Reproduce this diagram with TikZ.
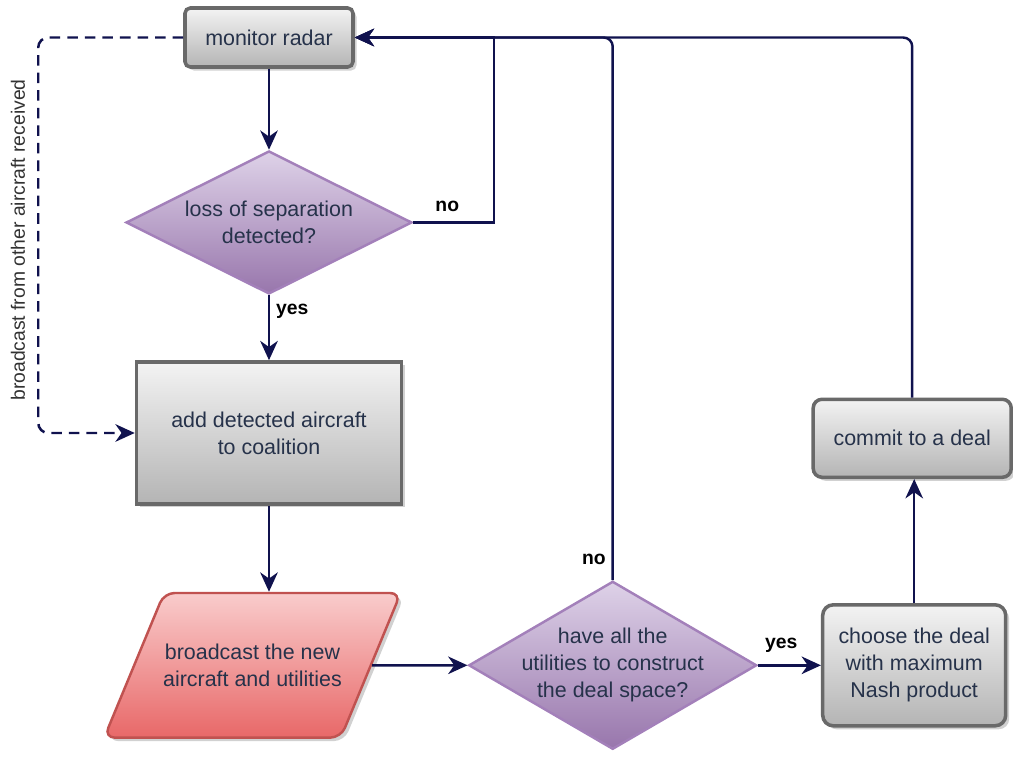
\documentclass[tikz,border=0pt]{standalone}
\usepackage{fontspec}
\setmainfont{Liberation Sans}
\usepackage{xcolor}
\usepackage{tikz}
\usetikzlibrary{shapes,arrows.meta,positioning,shadows}

\definecolor{flowblue}{RGB}{16,18,78}
\definecolor{boxtext}{RGB}{38,50,74}
\definecolor{labelgray}{RGB}{50,50,50}
\definecolor{boxedge}{RGB}{105,105,105}
\definecolor{boxtop}{RGB}{243,243,243}
\definecolor{boxbot}{RGB}{180,180,180}
\definecolor{decedge}{RGB}{163,128,186}
\definecolor{dectop}{RGB}{222,210,232}
\definecolor{decbot}{RGB}{152,118,172}
\definecolor{iotop}{RGB}{249,204,204}
\definecolor{iobot}{RGB}{232,104,104}
\definecolor{ioedge}{RGB}{192,82,80}

\begin{document}
\begin{tikzpicture}[
    node distance=1.5cm,
    font=\fontsize{12.2}{15.3}\selectfont,
    box/.style={rectangle, draw=boxedge, line width=2pt, top color=boxtop, bottom color=boxbot, text=boxtext, align=center, drop shadow={shadow xshift=0.07cm, shadow yshift=-0.07cm, fill=black!30, opacity=0.6}},
    decision/.style={diamond, aspect=1.7, inner sep=-6pt, draw=decedge, line width=1.4pt, top color=dectop, bottom color=decbot, text=boxtext, align=center},
    io/.style={trapezium, trapezium left angle=67.5, trapezium right angle=112.5, inner xsep=-0.02cm, inner ysep=1.02cm, rounded corners=6pt, draw=ioedge, line width=1.4pt, top color=iotop, bottom color=iobot, text=boxtext, align=center, drop shadow={shadow xshift=0.07cm, shadow yshift=-0.07cm, fill=black!30, opacity=0.6}},
    flow/.style={draw=flowblue, line width=1.4pt, -{Stealth[length=11pt, width=10pt, inset=3.5pt]}},
    tag/.style={font=\fontsize{11}{13}\selectfont\bfseries, text=black}
]
    \useasboundingbox (0,0) rectangle (20.26,-15.18);

    % Main column
    \node[box, rounded corners=3pt, minimum width=3.36cm, minimum height=1.18cm] (monitor) at (5.38,-0.75) {monitor radar};
    \node[decision, minimum width=5.72cm, minimum height=2.86cm, below=1.62cm of monitor] (loss) {loss of separation\\detected?};
    \node[box, minimum width=5.3cm, minimum height=2.84cm, below=1.3cm of loss] (add) {add detected aircraft\\to coalition};
    \node[io, below=1.72cm of add, xshift=-0.33cm] (bcast) {broadcast the new\\aircraft and utilities};

    % Deal part
    \node[decision, minimum width=5.76cm, minimum height=3.36cm, right=4.3cm of bcast.center] (allutil) {have all the\\utilities to construct\\the deal space?};
    \node[box, rounded corners=6pt, minimum width=3.66cm, minimum height=2.42cm, right=1.26cm of allutil] (choose) {choose the deal\\with maximum\\Nash product};
    \node[box, rounded corners=5pt, minimum width=3.96cm, minimum height=1.56cm, above=2.48cm of choose, xshift=-0.04cm] (commit) {commit to a deal};

    % Side label
    \node[rotate=90, text=labelgray, font=\fontsize{11}{13}\selectfont] (bcastnote) at (0.36,-4.8) {broadcast from other aircraft received};

    % Connections
    \draw[flow] (monitor) -- (loss);
    \draw[flow] (loss) -- node[tag, right, pos=0.25] {yes} (add);
    \draw[flow] (add.south) -- (add.south |- bcast.north);
    \draw[flow] (bcast) -- (allutil);
    \draw[flow] (allutil.east) node[tag, above right, yshift=3pt] {yes} -- (choose.west);
    \draw[flow] (choose) -- (choose |- commit.south);
    \draw[flow] (loss.east) -- node[tag, above, pos=0.42, yshift=2pt] {no} ++(1.62,0) |- (monitor.east);
    \draw[flow, rounded corners=0.18cm] (allutil.north) node[tag, above left, yshift=5pt] {no} |- (monitor.east);
    \draw[flow, rounded corners=0.18cm] (commit.north) |- (monitor.east);
    \draw[flow, dash pattern=on 6pt off 4pt, rounded corners=0.2cm] (monitor.west) -- ++(-2.9,0) |- (add.west);
\end{tikzpicture}
\end{document}
